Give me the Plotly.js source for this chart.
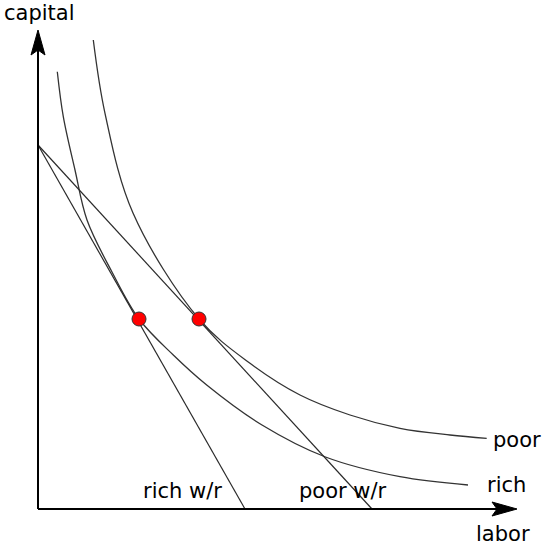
<!DOCTYPE html>
<html>
<head>
<meta charset="utf-8">
<script src="https://cdn.plot.ly/plotly-3.0.1.min.js"></script>
<style>html,body{margin:0;padding:0;background:#fff;}#chart{width:542px;height:545px;}</style>
</head>
<body>
<div id="chart"></div>
<script>
// Isoquant for the rich country (labor, capital)
var richLabor   = [19.3, 25.3, 37, 49, 74, 101, 135.3, 168.7, 224, 287.5, 362, 430];
var richCapital = [437.3, 392.3, 339, 289, 237, 190, 154, 124, 84, 52, 32.3, 24];
// Isoquant for the poor country
var poorLabor   = [55.3, 67, 95, 161, 212, 262, 312, 362, 412, 448.7];
var poorCapital = [469, 395.7, 296, 190, 145.7, 114, 94, 80.7, 74, 70.7];
// Iso-cost lines (w/r)
var richLineLabor = [0, 207];
var richLineCapital = [364, 0];
var poorLineLabor = [0, 334];
var poorLineCapital = [364, 0];
// Tangency points
var optLabor = [101, 161];
var optCapital = [190, 190];
// Labels
var curveLabels = ['poor', 'rich'];
var lineLabels = ['rich w/r', 'poor w/r'];
var axisLabels = ['labor', 'capital'];

var curveStyle = {color: '#333333', width: 1.3, shape: 'spline', smoothing: 1};
var lineStyle = {color: '#2a2a2a', width: 1.2};

var traces = [
  {x: richLabor, y: richCapital, mode: 'lines', line: curveStyle, hoverinfo: 'skip'},
  {x: poorLabor, y: poorCapital, mode: 'lines', line: curveStyle, hoverinfo: 'skip'},
  {x: richLineLabor, y: richLineCapital, mode: 'lines', line: lineStyle, hoverinfo: 'skip'},
  {x: poorLineLabor, y: poorLineCapital, mode: 'lines', line: lineStyle, hoverinfo: 'skip'},
  {x: optLabor, y: optCapital, mode: 'markers',
   marker: {color: '#ff0000', size: 14, line: {color: '#333333', width: 1}}, hoverinfo: 'skip'}
];

var font = {family: 'DejaVu Sans', size: 21, color: '#000'};
function label(t, x, y) {
  return {text: t, x: x, y: y, xref: 'x', yref: 'y', xanchor: 'left', yanchor: 'middle',
          showarrow: false, font: font};
}

var layout = {
  width: 542, height: 545,
  margin: {l: 0, r: 0, t: 0, b: 0},
  paper_bgcolor: '#fff', plot_bgcolor: '#fff',
  showlegend: false,
  xaxis: {range: [-38, 504], visible: false, fixedrange: true},
  yaxis: {range: [-36, 509], visible: false, fixedrange: true},
  shapes: [
    {type: 'line', x0: 0, y0: 0, x1: 0, y1: 460, line: {color: '#000', width: 2}},
    {type: 'line', x0: 0, y0: 0, x1: 460, y1: 0, line: {color: '#000', width: 2}},
    {type: 'path', path: 'M 0 479 L -7 454 L 0 459 L 7 454 Z', fillcolor: '#000', line: {color: '#000', width: 1}},
    {type: 'path', path: 'M 479 0 L 454 7 L 459 0 L 454 -7 Z', fillcolor: '#000', line: {color: '#000', width: 1}}
  ],
  annotations: [
    label(curveLabels[0], 453, 69.5),
    label(curveLabels[1], 447, 24.5),
    label(lineLabels[0], 103, 18),
    label(lineLabels[1], 259, 18),
    label(axisLabels[0], 435.5, -25),
    label(axisLabels[1], -36, 496)
  ]
};

Plotly.newPlot('chart', traces, layout, {staticPlot: true, displayModeBar: false});
</script>
</body>
</html>
